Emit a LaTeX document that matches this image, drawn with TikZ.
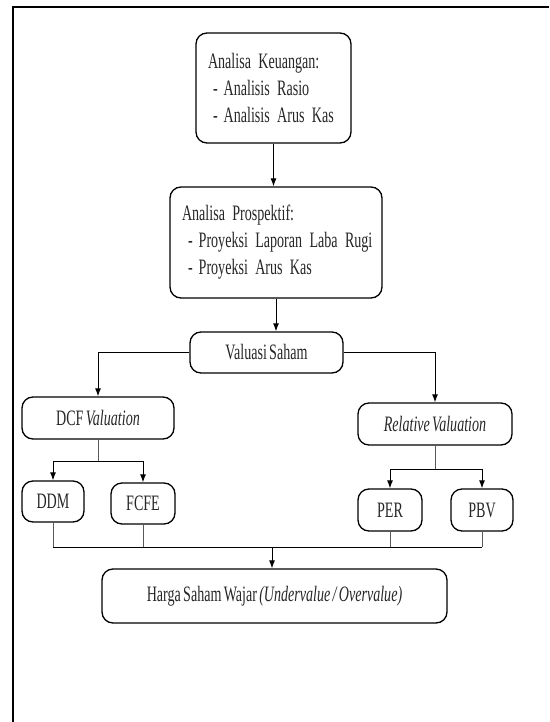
\documentclass[tikz,border=0pt]{standalone}
\usepackage{fontspec}
\setmainfont{Liberation Serif}[FakeStretch=0.64,WordSpace=0.64]
\usetikzlibrary{arrows.meta}
\tikzset{
  kotak/.style={draw, rounded corners=11pt, line width=1.3pt, inner sep=0pt,
    font=\fontsize{22}{27}\selectfont, text=black!85},
  panah/.style={-{Latex[length=8pt,width=6pt]}, line width=1pt},
  garis/.style={line width=0.6pt, draw=black!65}
}

\begin{document}
\begin{tikzpicture}[x=1pt,y=-1pt]
%picture
\useasboundingbox (0,0) rectangle (549,722);
\draw [line width=1.2pt] (549,7)--(13,7)--(13,722);
\node [kotak,minimum width=155pt,minimum height=110pt,text width=131pt,align=left] (keu) at (273.5,88)
  {\mbox{Analisa Keuangan:}\\\mbox{\hspace*{5pt}-\hspace{6pt}Analisis Rasio}\\\mbox{\hspace*{5pt}-\hspace{6pt}Analisis Arus Kas}};
\node [kotak,minimum width=212pt,minimum height=111pt,text width=188pt,align=left] (pros) at (276,242.5)
  {\mbox{Analisa Prospektif:}\\\mbox{\hspace*{6pt}-\hspace{6pt}Proyeksi Laporan Laba Rugi}\\\mbox{\hspace*{6pt}-\hspace{6pt}Proyeksi Arus Kas}};
\node [kotak,minimum width=153pt,minimum height=41pt] (val) at (266.5,352.5) {Valuasi Saham};
\node [kotak,minimum width=152pt,minimum height=42pt] (dcf) at (98,418) {DCF \textit{Valuation}};
\node [kotak,minimum width=154pt,minimum height=42pt] (rel) at (435,424) {\textit{Relative Valuation}};
\node [kotak,minimum width=62pt,minimum height=41pt] (ddm) at (53,501.5) {DDM};
\node [kotak,minimum width=64pt,minimum height=41pt] (fcfe) at (143,503.5) {FCFE};
\node [kotak,minimum width=64pt,minimum height=42pt] (per) at (390,510) {PER};
\node [kotak,minimum width=62pt,minimum height=42pt] (pbv) at (482,510) {PBV};
\node [kotak,minimum width=345pt,minimum height=54pt] (harga) at (274.5,596)
  {Harga Saham Wajar \textit{(Undervalue / Overvalue)}};
%arrows
\draw [panah] (keu.south)--(keu.south |- pros.north);
\draw [panah] (pros.south)--(pros.south |- val.north);
\draw [panah] (val.west)-|(dcf.north);
\draw [panah] (val.east)-|(rel.north);
\coordinate (cabang1) at (98,461);
\coordinate (cabang2) at (435,469);
\draw [garis] (dcf.south)--(cabang1);
\draw [garis] (rel.south)--(cabang2);
\draw [panah] (cabang1)-|(ddm.north);
\draw [panah] (cabang1)-|(fcfe.north);
\draw [panah] (cabang2)-|(per.north);
\draw [panah] (cabang2)-|(pbv.north);
%bottom
\coordinate (gabung) at (272,547);
\draw [garis] (ddm.south)--(ddm.south |- gabung);
\draw [garis] (fcfe.south)--(fcfe.south |- gabung);
\draw [garis] (per.south)--(per.south |- gabung);
\draw [garis] (pbv.south)--(pbv.south |- gabung);
\draw [line width=0.8pt] (ddm.south |- gabung)--(pbv.south |- gabung);
\draw [panah] (gabung)--(gabung |- harga.north);
\end{tikzpicture}
\end{document}
